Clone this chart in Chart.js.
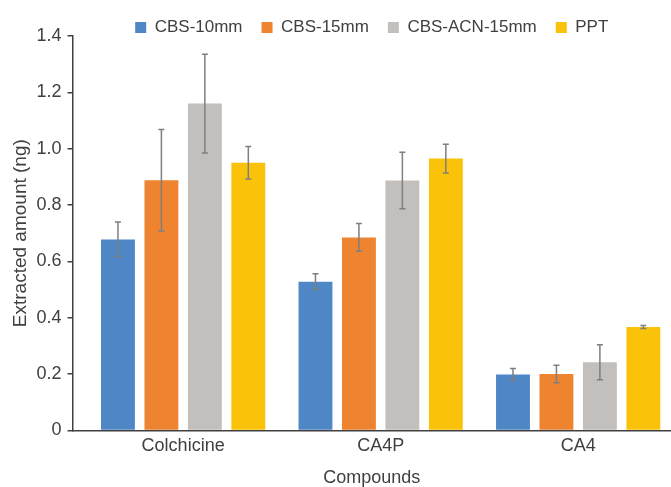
<!DOCTYPE html>
<html>
<head>
<meta charset="utf-8">
<script src="https://cdn.jsdelivr.net/npm/chart.js@4.4.1/dist/chart.umd.min.js"></script>
<style>
  html, body { margin: 0; padding: 0; background: #fff; }
  #wrap { width: 671px; height: 487px; position: relative; overflow: hidden; }
</style>
</head>
<body>
<div id="wrap"><canvas id="chart"></canvas></div>
<script>
// Datos del gráfico
const categories = ['Colchicine', 'CA4P', 'CA4'];
const seriesNames = ['CBS-10mm', 'CBS-15mm', 'CBS-ACN-15mm', 'PPT'];
const cbs10 = [0.678, 0.528, 0.198];
const cbs15 = [0.888, 0.685, 0.200];
const cbsAcn15 = [1.160, 0.887, 0.242];
const ppt = [0.950, 0.965, 0.367];
const cbs10Err = [0.062, 0.028, 0.022];
const cbs15Err = [0.180, 0.049, 0.031];
const cbsAcn15Err = [0.175, 0.100, 0.062];
const pptErr = [0.058, 0.051, 0.005];
const yTicks = [0, 0.2, 0.4, 0.6, 0.8, 1.0, 1.2, 1.4];

const colors = ['#4f86c6', '#ee842f', '#c3bfbd', '#fac309'];
const values = [cbs10, cbs15, cbsAcn15, ppt];
const errors = [cbs10Err, cbs15Err, cbsAcn15Err, pptErr];

Chart.defaults.font.family = '"Liberation Sans", Arial, sans-serif';
Chart.defaults.color = '#404040';

// Barras de error dibujadas con la escala Y del gráfico
const errorBars = {
  id: 'errorBars',
  afterDatasetsDraw(chart) {
    const ctx = chart.ctx;
    const yScale = chart.scales.y;
    ctx.save();
    ctx.strokeStyle = '#7f7f7f';
    ctx.lineWidth = 1.5;
    chart.data.datasets.forEach((ds, di) => {
      const meta = chart.getDatasetMeta(di);
      meta.data.forEach((bar, i) => {
        const v = ds.data[i].y;
        const e = ds.errors[i];
        const yTop = yScale.getPixelForValue(v + e);
        const yBot = yScale.getPixelForValue(v - e);
        ctx.beginPath();
        ctx.moveTo(bar.x, yTop);
        ctx.lineTo(bar.x, yBot);
        ctx.moveTo(bar.x - 3, yTop);
        ctx.lineTo(bar.x + 3, yTop);
        ctx.moveTo(bar.x - 3, yBot);
        ctx.lineTo(bar.x + 3, yBot);
        ctx.stroke();
      });
    });
    ctx.restore();
  }
};

new Chart(document.getElementById('chart'), {
  type: 'bar',
  data: {
    datasets: seriesNames.map((name, si) => ({
      label: name,
      data: values[si].map((v, i) => ({ x: i, y: v })),
      errors: errors[si],
      backgroundColor: colors[si],
      borderWidth: 0,
      categoryPercentage: 0.88,
      barPercentage: 0.78
    }))
  },
  options: {
    responsive: true,
    maintainAspectRatio: false,
    animation: false,
    plugins: {
      tooltip: { enabled: false },
      legend: {
        position: 'top',
        fullSize: false,
        maxHeight: 36,
        labels: {
          boxWidth: 11,
          boxHeight: 11,
          padding: 19,
          font: { size: 17 },
          color: '#404040'
        }
      }
    },
    scales: {
      x: {
        type: 'linear',
        min: -0.56,
        max: 2.47,
        offset: false,
        afterBuildTicks: scale => {
          scale.ticks = categories.map((c, i) => ({ value: i }));
        },
        ticks: {
          callback: v => categories[v],
          font: { size: 18 },
          padding: 5,
          maxRotation: 0,
          autoSkip: false
        },
        grid: { display: false, drawTicks: false },
        border: { display: true, color: '#404040', width: 1.5 },
        title: {
          display: true,
          text: 'Compounds',
          font: { size: 18, lineHeight: 1 },
          padding: { top: 7, bottom: 0 }
        }
      },
      y: {
        min: 0,
        max: 1.4,
        afterBuildTicks: scale => {
          scale.ticks = yTicks.map(v => ({ value: v }));
        },
        ticks: {
          callback: v => (v === 0 ? '0' : v.toFixed(1)),
          font: { size: 18 },
          padding: 6
        },
        grid: {
          display: true,
          drawOnChartArea: false,
          drawTicks: true,
          tickLength: 5,
          color: '#404040',
          lineWidth: 1.5
        },
        border: { display: true, color: '#404040', width: 1.5 },
        title: {
          display: true,
          text: 'Extracted amount (ng)',
          font: { size: 19, lineHeight: 1 },
          padding: { top: 11.5, bottom: 0 }
        }
      }
    }
  },
  plugins: [errorBars]
});
</script>
</body>
</html>
